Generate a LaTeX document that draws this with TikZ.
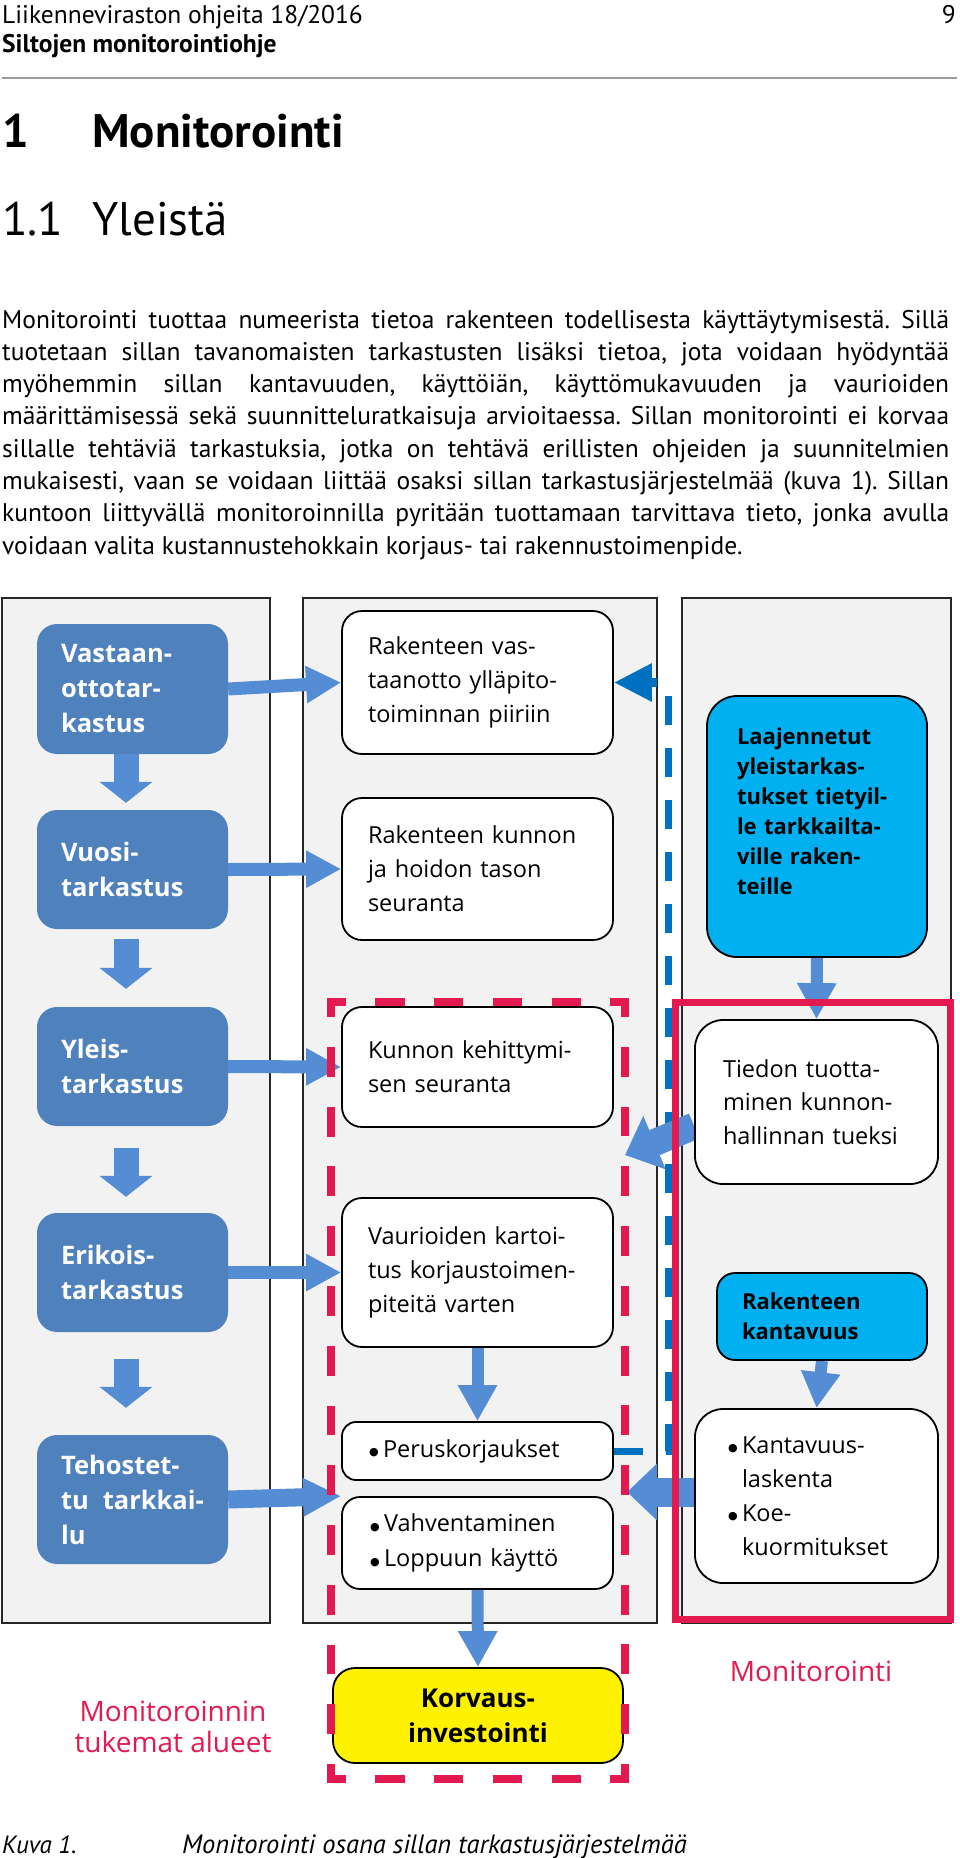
\documentclass[tikz,border=0pt]{standalone}
\usepackage{fontspec}
\setmainfont{PT Sans}
\newfontfamily\dfont{Open Sans}
\newfontfamily\symfont{DejaVu Sans}
\usetikzlibrary{arrows.meta,calc}
\hyphenpenalty=10000
\exhyphenpenalty=10000
\frenchspacing
\definecolor{panelgray}{HTML}{F2F2F2}
\definecolor{boxblue}{HTML}{4F81BD}
\definecolor{arrblue}{RGB}{84,141,212}
\definecolor{dashblue}{HTML}{0070C0}
\definecolor{brightblue}{HTML}{00B0F0}
\definecolor{monred}{RGB}{226,26,80}
\definecolor{rulegray}{HTML}{9A9A9A}
\pgfdeclarelayer{back}
\pgfdeclarelayer{mid}
\pgfdeclarelayer{front}
\pgfsetlayers{back,mid,main,front}
\newcommand\jline[1]{\makebox[947pt][s]{#1}}
\newcommand\bul{\makebox[14pt][l]{\raisebox{1.5pt}{\symfont\fontsize{11}{11}\selectfont ●}}}
\tikzset{
  txt/.style={anchor=base west, inner sep=0pt},
  bodyfont/.style={font=\fontsize{25.5}{30}\selectfont},
  panel/.style={draw=black!85, line width=1.6pt, fill=panelgray},
  lbox/.style={fill=boxblue, rounded corners=20pt, minimum width=191pt,
    inner xsep=24pt, inner ysep=0pt, text width=143pt, align=left, text=white,
    font=\dfont\bfseries\fontsize{25.5}{35}\selectfont},
  mbox/.style={draw=black, line width=1.8pt, fill=white, rounded corners=20pt,
    minimum width=271pt, inner xsep=26pt, inner ysep=0pt, text width=219pt, align=left,
    font=\dfont\fontsize{23.5}{34}\selectfont},
  rbox/.style={draw=black, line width=1.8pt, fill=white, rounded corners=28pt,
    minimum width=243pt, inner ysep=0pt, align=left,
    font=\dfont\fontsize{23.5}{33.5}\selectfont},
  cbox/.style={draw=black, line width=1.8pt, fill=brightblue, align=left, inner ysep=0pt,
    font=\dfont\bfseries\fontsize{22}{30}\selectfont},
  varrow/.style={draw=arrblue, line width=25pt, -{Triangle[length=21pt,width=52pt]}},
  harrow/.style={draw=arrblue, line width=13pt, -{Triangle[length=35pt,width=35pt]}},
  harrowb/.style={draw=arrblue, line width=18pt, -{Triangle[length=38pt,width=36pt]}},
  marrow/.style={draw=arrblue, line width=12pt, -{Triangle[length=36pt,width=37pt]}},
  darrow/.style={draw=arrblue, line width=27pt, -{Triangle[length=32pt,width=56pt]}},
  bluedash/.style={draw=dashblue, line width=7pt, dash pattern=on 29pt off 23pt},
  reddash/.style={draw=monred, line width=8pt, line cap=rect},
  redlabel/.style={text=monred, align=center, inner sep=0pt, font=\dfont\fontsize{28}{31}\selectfont},
}
\begin{document}
\begin{tikzpicture}[x=1pt,y=-1pt]
\useasboundingbox (0,0) rectangle (960,1858);
\begin{pgfonlayer}{back}
\fill[white] (0,0) rectangle (960,1858);
\draw[panel] (2,598) rectangle (270,1623);
\draw[panel] (303,598) rectangle (657,1623);
\draw[panel] (682,598) rectangle (951,1623);
\end{pgfonlayer}

% header
\node[txt, bodyfont] (h1) at (2,23) {Liikenneviraston ohjeita 18/2016};
\node[txt, font=\fontsize{25.5}{30}\selectfont\bfseries] (h2) at (2,52) {Siltojen monitorointiohje};
\node[anchor=base east, inner sep=0pt, bodyfont] (pg) at (956,23) {9};
\draw[rulegray, line width=2pt] (2,78) -- (957,78);

% titles
\node[txt, font=\fontsize{47}{52}\selectfont\bfseries] (t1n) at (2,147) {1};
\node[txt, font=\fontsize{47}{52}\selectfont\bfseries] (t1) at (92,147) {Monitorointi};
\node[txt, font=\fontsize{47}{52}\selectfont] (t2n) at (2,235) {1.1};
\node[txt, font=\fontsize{47}{52}\selectfont] (t2) at (92,235) {Yleistä};

% paragraph
\node[txt, bodyfont] (p1) at (2,328) {\jline{Monitorointi tuottaa numeerista tietoa rakenteen todellisesta käyttäytymisestä. Sillä}};
\node[txt, bodyfont] (p2) at (2,360.3) {\jline{tuotetaan sillan tavanomaisten tarkastusten lisäksi tietoa, jota voidaan hyödyntää}};
\node[txt, bodyfont] (p3) at (2,392.6) {\jline{myöhemmin sillan kantavuuden, käyttöiän, käyttömukavuuden ja vaurioiden}};
\node[txt, bodyfont] (p4) at (2,424.9) {\jline{määrittämisessä sekä suunnitteluratkaisuja arvioitaessa. Sillan monitorointi ei korvaa}};
\node[txt, bodyfont] (p5) at (2,457.2) {\jline{sillalle tehtäviä tarkastuksia, jotka on tehtävä erillisten ohjeiden ja suunnitelmien}};
\node[txt, bodyfont] (p6) at (2,489.5) {\jline{mukaisesti, vaan se voidaan liittää osaksi sillan tarkastusjärjestelmää (kuva 1). Sillan}};
\node[txt, bodyfont] (p7) at (2,521.8) {\jline{kuntoon liittyvällä monitoroinnilla pyritään tuottamaan tarvittava tieto, jonka avulla}};
\node[txt, bodyfont] (p8) at (2,554.1) {voidaan valita kustannustehokkain korjaus- tai rakennustoimenpide.};

% left column
\node[lbox, minimum height=130pt] (L1) at (132.5,689) {Vastaan-\\ottotar-\\kastus};
\node[lbox, minimum height=119pt] (L2) at (132.5,869.5) {Vuosi-\\tarkastus};
\node[lbox, minimum height=119pt] (L3) at (132.5,1066.5) {Yleis-\\tarkastus};
\node[lbox, minimum height=119pt] (L4) at (132.5,1272.5) {Erikois-\\tarkastus};
\node[lbox, minimum height=129pt] (L5) at (132.5,1499.5) {Tehostet-\\tu\hspace*{14pt}tarkkai-\\lu};

% middle column
\node[mbox, minimum height=143pt] (M1) at (477.5,682.5) {Rakenteen~vas-\\taanotto~ylläpito-\\toiminnan~piiriin};
\node[mbox, minimum height=142pt] (M2) at (477.5,869) {Rakenteen~kunnon\\ja~hoidon~tason\\seuranta};
\node[mbox, minimum height=120pt] (M3) at (477.5,1067) {Kunnon~kehittymi-\\sen~seuranta};
\node[mbox, minimum height=149pt] (M4) at (477.5,1272.5) {Vaurioiden~kartoi-\\tus~korjaustoimen-\\piteitä~varten};
\node[mbox, minimum height=58pt, rounded corners=14pt, inner xsep=27pt, text width=217pt, font=\dfont\fontsize{23.5}{35}\selectfont] (M5) at (477.5,1451) {\bul Peruskorjaukset};
\node[mbox, minimum height=92pt, rounded corners=18pt, inner xsep=28pt, text width=215pt, font=\dfont\fontsize{23.5}{35}\selectfont] (M6) at (477.5,1543) {\bul Vahventaminen\\\bul Loppuun~käyttö};
\node[draw=black, line width=1.8pt, fill=yellow, rounded corners=22pt, minimum width=290pt,
  minimum height=95pt, align=center, inner sep=0pt,
  font=\dfont\bfseries\fontsize{26}{35}\selectfont] (K) at (478,1715.5) {Korvaus-\\investointi};

% right column
\node[cbox, rounded corners=30pt, minimum width=220pt, minimum height=261pt,
  inner xsep=30pt, text width=160pt] (R1) at (817,826.5)
  {Laajennetut\\yleistarkas-\\tukset~tietyil-\\le~tarkkailta-\\ville~raken-\\teille\\\mbox{}};
\node[rbox, minimum height=164pt, inner xsep=28pt, text width=187pt] (R2) at (816.5,1102)
  {Tiedon~tuotta-\\minen~kunnon-\\hallinnan~tueksi};
\node[cbox, rounded corners=18pt, minimum width=210pt, minimum height=87pt,
  inner xsep=25pt, text width=160pt] (R3) at (822,1316.5) {Rakenteen\\kantavuus};
\node[rbox, minimum height=174pt, inner xsep=33pt, text width=177pt,
  font=\dfont\fontsize{23.5}{34}\selectfont] (R4) at (816.5,1496)
  {\bul Kantavuus-\\\hspace*{14pt}laskenta\\\bul Koe-\\\hspace*{14pt}kuormitukset};

% free arrow ends
\coordinate (d1) at (625,1155);
\coordinate (d2) at (627,1492);
\coordinate (bc) at (668,690);
\coordinate (bh) at (657,682.5);

\begin{pgfonlayer}{mid}
% blue dashed feedback line
\draw[bluedash] (M5.east) -| (bc);
\draw[draw=dashblue, line width=9pt, -{Triangle[length=38pt,width=36pt]}] (bh) -- (M1.east);
% left column down arrows
\draw[varrow, shorten >=7pt] ([xshift=-6.5pt]L1.south) -- ([xshift=-6.5pt]L2.north);
\draw[varrow, shorten <=10pt, shorten >=18pt] ([xshift=-6.5pt]L2.south) -- ([xshift=-6.5pt]L3.north);
\draw[varrow, shorten <=22pt, shorten >=16pt] ([xshift=-6.5pt]L3.south) -- ([xshift=-6.5pt]L4.north);
\draw[varrow, shorten <=27pt, shorten >=27pt] ([xshift=-6.5pt]L4.south) -- ([xshift=-6.5pt]L5.north);
% left to middle
\draw[harrow] (L1.east) -- (M1.west);
\draw[harrow] (L2.east) -- (M2.west);
\draw[harrow] (L3.east) -- (M3.west);
\draw[harrow] (L4.east) -- (M4.west);
\draw[harrowb] (L5.east) -- (M6.north west);
% middle down
\draw[marrow] (M4.south) -- (M5.north);
\draw[marrow] (M6.south) -- (K.north);
% right down
\draw[marrow] (R1.south) -- (R2.north);
\draw[marrow] (R3.south) -- (R4.north);
% right to middle
\draw[darrow] ([yshift=-24pt]R2.west) -- (d1);
\draw[darrow, line width=29pt, -{Triangle[length=30pt,width=55pt]}] ([yshift=4pt]R4.west) -- (d2);
\end{pgfonlayer}

\begin{pgfonlayer}{front}
% red dashed region (middle)
\draw[reddash, dash pattern=on 21.4pt off 37.4pt, dash phase=10.7pt] (331,1002) -- (625,1002);
\draw[reddash, dash pattern=on 21.4pt off 37.4pt, dash phase=10.7pt] (625,1779) -- (331,1779);
\draw[reddash, dash pattern=on 21.88pt off 37.88pt, dash phase=10.94pt] (625,1002) -- (625,1779);
\draw[reddash, dash pattern=on 21.88pt off 37.88pt, dash phase=10.94pt] (331,1779) -- (331,1002);
% red solid region (right)
\draw[monred, line width=7pt] (675,1002) rectangle (950,1619);
\end{pgfonlayer}

% labels
\node[redlabel] (lab1) at (173,1726.5) {Monitoroinnin\\tukemat alueet};
\node[redlabel] (lab2) at (811,1671) {Monitorointi};

% caption
\node[txt, font=\fontsize{25}{28}\selectfont\itshape] (c1) at (2,1853) {Kuva 1.};
\node[txt, font=\fontsize{26.5}{28}\selectfont\itshape] (c2) at (182,1853) {Monitorointi osana sillan tarkastusjärjestelmää};
\end{tikzpicture}
\end{document}
